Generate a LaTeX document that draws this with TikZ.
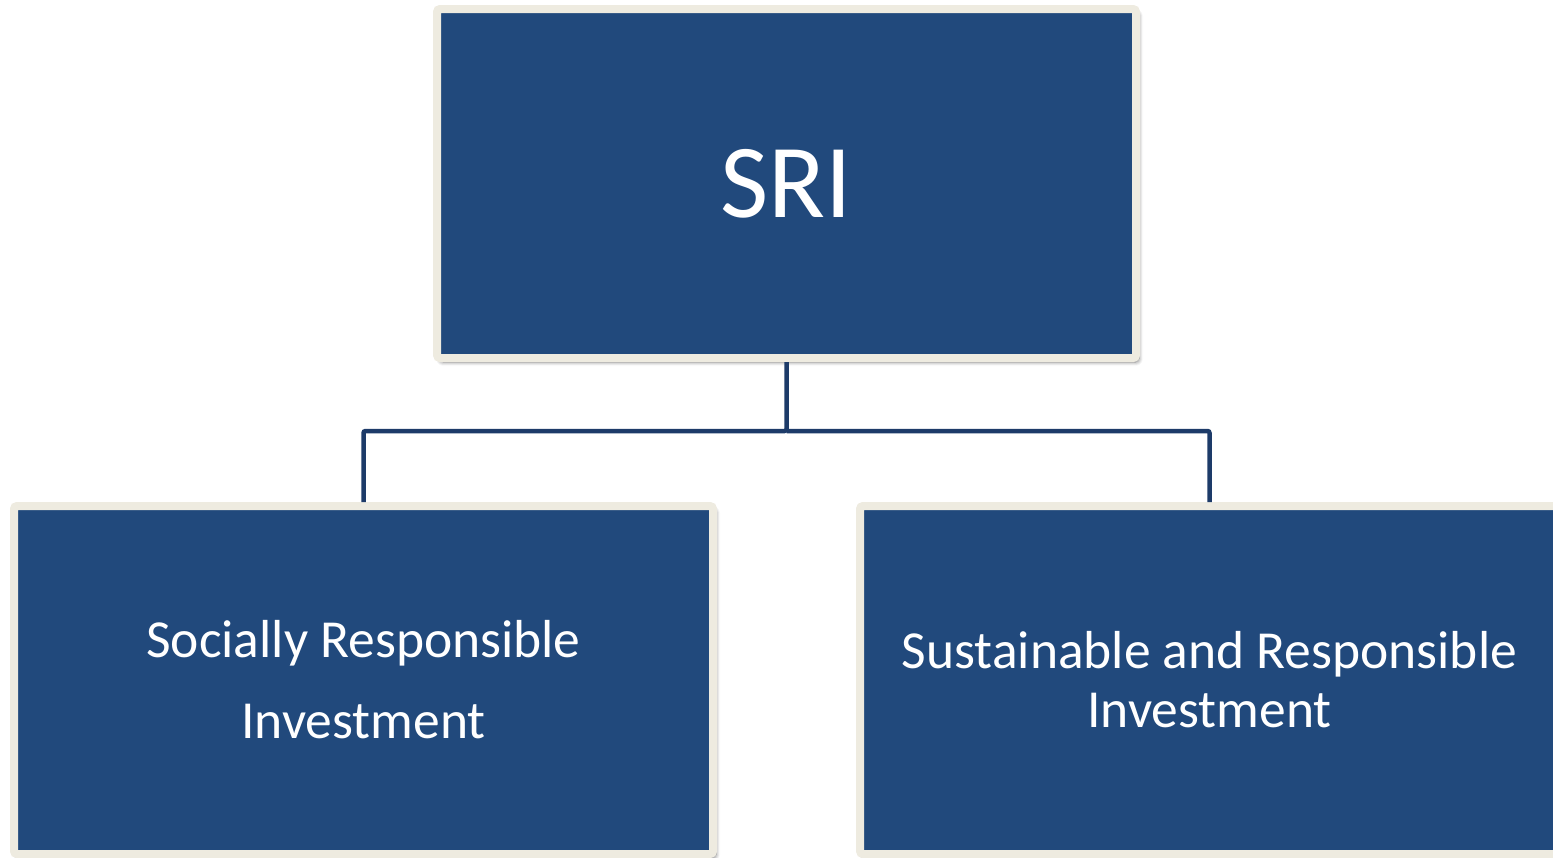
\documentclass[tikz,border=0pt]{standalone}
\usepackage{fontspec}
\setmainfont{Carlito}
\usetikzlibrary{shadows.blur}
\definecolor{boxblue}{HTML}{21497C}
\definecolor{framecream}{HTML}{EEEBE0}
\definecolor{linenavy}{HTML}{1D3B69}
\tikzset{
  orgbox/.style={draw=framecream, line width=8pt, fill=boxblue, rounded corners=3pt,
    minimum width=699pt, minimum height=349pt, text=white, align=center,
    blur shadow={shadow xshift=3pt, shadow yshift=-4pt, shadow blur steps=8, shadow blur radius=4pt, shadow opacity=50}},
  link/.style={draw=linenavy, line width=4.5pt, rounded corners=2pt}
}
\begin{document}
\begin{tikzpicture}[x=1pt,y=-1pt]
\useasboundingbox (0,0) rectangle (1553,857);
\clip (0,0) rectangle (1553,857);
\node[orgbox, font=\fontsize{105}{115}\selectfont] (top) at (786.5,183.5) {SRI};
\node[orgbox, minimum height=348pt, font=\fontsize{53.5}{81}\selectfont] (left) at (363.5,680) {Socially Responsible\\Investment};
\node[orgbox, minimum height=348pt, font=\fontsize{53.5}{59}\selectfont] (right) at (1209.5,680) {Sustainable and Responsible\\Investment};
\draw[link] (top.south) -- ++(0,69) coordinate (mid) -| (left.north);
\draw[link] (mid) -| (right.north);
\end{tikzpicture}
\end{document}
